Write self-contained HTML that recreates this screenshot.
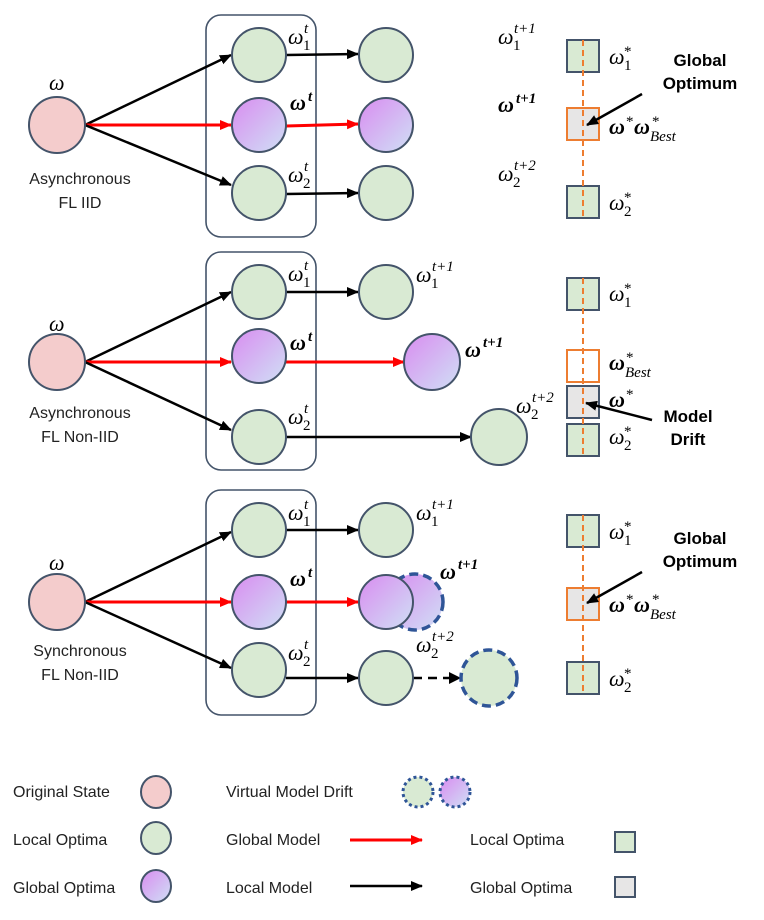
<html><body style="margin:0;background:#fff">
<svg width="764" height="920" xmlns="http://www.w3.org/2000/svg" font-family="Liberation Sans, sans-serif">
<defs>
<linearGradient id="pg" x1="0" y1="0" x2="1" y2="1"><stop offset="0" stop-color="#d98cf0"/><stop offset="1" stop-color="#cfe0f5"/></linearGradient>
<marker id="ab" markerWidth="12" markerHeight="10" refX="11" refY="5" orient="auto" markerUnits="userSpaceOnUse" viewBox="0 0 12 10"><path d="M0,0L12,5L0,10z" fill="#000"/></marker>
<marker id="ar" markerWidth="12" markerHeight="10" refX="11" refY="5" orient="auto" markerUnits="userSpaceOnUse" viewBox="0 0 12 10"><path d="M0,0L12,5L0,10z" fill="#f00"/></marker>
<style>
.o{fill:#f4cccc;stroke:#44546a;stroke-width:2}
.g{fill:#d9ead3;stroke:#44546a;stroke-width:2}
.p{fill:url(#pg);stroke:#44546a;stroke-width:2}
.bx{fill:none;stroke:#44546a;stroke-width:1.6}
.k{stroke:#000;stroke-width:2.5;marker-end:url(#ab)}
.r{stroke:#f00;stroke-width:3;marker-end:url(#ar)}
.sg{fill:#d9ead3;stroke:#44546a;stroke-width:2}
.sgr{fill:#e7e6e6;stroke:#44546a;stroke-width:2}
.so{fill:#e7e6e6;stroke:#ed7d31;stroke-width:2}
.dl{stroke:#ed7d31;stroke-width:2;stroke-dasharray:6,4}
.m{font-family:"Liberation Serif",serif;font-style:italic;font-size:22px}
.mb{font-family:"Liberation Serif",serif;font-style:italic;font-weight:bold;font-size:22px}
.s{font-family:"Liberation Serif",serif;font-style:italic;font-size:15px}
.sb{font-family:"Liberation Serif",serif;font-style:italic;font-weight:bold;font-size:15px}
.n{font-family:"Liberation Serif",serif;font-size:15px}
.t{font-size:16px;fill:#222}
.lb{font-size:17px;font-weight:bold}
.vd{stroke:#2f5597;stroke-width:3.5;stroke-dasharray:9,5}
</style>
</defs>
<!-- Panel 1 -->
<rect class="bx" x="206" y="15" width="110" height="222" rx="15"/>
<line class="k" x1="85" y1="125" x2="231" y2="55"/>
<line class="r" x1="85" y1="125" x2="231" y2="125"/>
<line class="k" x1="85" y1="125" x2="231" y2="185"/>
<line class="k" x1="286" y1="55" x2="358" y2="54"/>
<line class="r" x1="286" y1="126" x2="358" y2="124"/>
<line class="k" x1="286" y1="194" x2="358" y2="193"/>
<circle class="o" cx="57" cy="125" r="28"/>
<circle class="g" cx="259" cy="55" r="27"/><circle class="p" cx="259" cy="125" r="27"/><circle class="g" cx="259" cy="193" r="27"/>
<circle class="g" cx="386" cy="55" r="27"/><circle class="p" cx="386" cy="125" r="27"/><circle class="g" cx="386" cy="193" r="27"/>
<text class="m" x="49" y="90">ω</text>
<text class="t" x="80" y="184" text-anchor="middle">Asynchronous</text><text class="t" x="80" y="208" text-anchor="middle">FL IID</text>
<text class="m" x="288" y="44">ω</text><text class="s" x="304" y="33">t</text><text class="n" x="303" y="50">1</text>
<text class="mb" x="290" y="110">ω</text><text class="sb" x="308" y="101">t</text>
<text class="m" x="288" y="182">ω</text><text class="s" x="304" y="171">t</text><text class="n" x="303" y="188">2</text>
<text class="m" x="498" y="44">ω</text><text class="s" x="514" y="33">t+1</text><text class="n" x="513" y="50">1</text>
<text class="mb" x="498" y="112">ω</text><text class="sb" x="516" y="103">t+1</text>
<text class="m" x="498" y="181">ω</text><text class="s" x="514" y="170">t+2</text><text class="n" x="513" y="187">2</text>
<rect class="sg" x="567" y="40" width="32" height="32"/><rect class="so" x="567" y="108" width="32" height="32"/><rect class="sg" x="567" y="186" width="32" height="32"/>
<line class="dl" x1="583" y1="40" x2="583" y2="218"/>
<text class="m" x="609" y="64">ω</text><text class="n" x="624" y="56">*</text><text class="n" x="624" y="70">1</text>
<text class="mb" x="609" y="134">ω</text><text class="n" x="626" y="126">*</text><text class="mb" x="634" y="134">ω</text><text class="n" x="652" y="126">*</text><text class="s" x="650" y="141">Best</text>
<text class="m" x="609" y="210">ω</text><text class="n" x="624" y="202">*</text><text class="n" x="624" y="216">2</text>
<text class="lb" x="700" y="66" text-anchor="middle">Global</text><text class="lb" x="700" y="89" text-anchor="middle">Optimum</text>
<line class="k" x1="642" y1="94" x2="587" y2="125"/>
<!-- Panel 2 -->
<rect class="bx" x="206" y="252" width="110" height="218" rx="15"/>
<line class="k" x1="85" y1="362" x2="231" y2="292"/>
<line class="r" x1="85" y1="362" x2="231" y2="362"/>
<line class="k" x1="85" y1="362" x2="231" y2="430"/>
<line class="k" x1="286" y1="292" x2="358" y2="292"/>
<line class="r" x1="286" y1="362" x2="404" y2="362"/>
<line class="k" x1="286" y1="437" x2="471" y2="437"/>
<circle class="o" cx="57" cy="362" r="28"/>
<circle class="g" cx="259" cy="292" r="27"/><circle class="p" cx="259" cy="356" r="27"/><circle class="g" cx="259" cy="437" r="27"/>
<circle class="g" cx="386" cy="292" r="27"/><circle class="p" cx="432" cy="362" r="28"/><circle class="g" cx="499" cy="437" r="28"/>
<text class="m" x="49" y="331">ω</text>
<text class="t" x="80" y="418" text-anchor="middle">Asynchronous</text><text class="t" x="80" y="442" text-anchor="middle">FL Non-IID</text>
<text class="m" x="288" y="281">ω</text><text class="s" x="304" y="270">t</text><text class="n" x="303" y="287">1</text>
<text class="mb" x="290" y="350">ω</text><text class="sb" x="308" y="341">t</text>
<text class="m" x="288" y="424">ω</text><text class="s" x="304" y="413">t</text><text class="n" x="303" y="430">2</text>
<text class="m" x="416" y="282">ω</text><text class="s" x="432" y="271">t+1</text><text class="n" x="431" y="288">1</text>
<text class="mb" x="465" y="357">ω</text><text class="sb" x="483" y="347">t+1</text>
<text class="m" x="516" y="413">ω</text><text class="s" x="532" y="402">t+2</text><text class="n" x="531" y="419">2</text>
<rect class="sg" x="567" y="278" width="32" height="32"/><rect x="567" y="350" width="32" height="32" fill="#fff" stroke="#ed7d31" stroke-width="2"/><rect class="sgr" x="567" y="386" width="32" height="32"/><rect class="sg" x="567" y="424" width="32" height="32"/>
<line class="dl" x1="583" y1="278" x2="583" y2="456"/>
<text class="m" x="609" y="301">ω</text><text class="n" x="624" y="293">*</text><text class="n" x="624" y="307">1</text>
<text class="mb" x="609" y="370">ω</text><text class="n" x="626" y="362">*</text><text class="s" x="625" y="377">Best</text>
<text class="mb" x="609" y="407">ω</text><text class="n" x="626" y="399">*</text>
<text class="m" x="609" y="444">ω</text><text class="n" x="624" y="436">*</text><text class="n" x="624" y="450">2</text>
<text class="lb" x="688" y="422" text-anchor="middle">Model</text><text class="lb" x="688" y="445" text-anchor="middle">Drift</text>
<line class="k" x1="652" y1="420" x2="586" y2="403"/>
<!-- Panel 3 -->
<rect class="bx" x="206" y="490" width="110" height="225" rx="15"/>
<line class="k" x1="85" y1="602" x2="231" y2="532"/>
<line class="r" x1="85" y1="602" x2="231" y2="602"/>
<line class="k" x1="85" y1="602" x2="231" y2="668"/>
<line class="k" x1="286" y1="530" x2="358" y2="530"/>
<line class="r" x1="286" y1="602" x2="358" y2="602"/>
<line class="k" x1="286" y1="678" x2="358" y2="678"/>
<line x1="413" y1="678" x2="450" y2="678" stroke="#000" stroke-width="2.5" stroke-dasharray="9,6"/>
<path d="M449,672L461,678L449,684z"/>
<circle class="o" cx="57" cy="602" r="28"/>
<circle class="g" cx="259" cy="530" r="27"/><circle class="p" cx="259" cy="602" r="27"/><circle class="g" cx="259" cy="670" r="27"/>
<circle class="g" cx="386" cy="530" r="27"/>
<circle cx="415" cy="602" r="28" fill="url(#pg)" class="vd"/>
<circle class="p" cx="386" cy="602" r="27"/>
<circle class="g" cx="386" cy="678" r="27"/>
<circle cx="489" cy="678" r="28" fill="#d9ead3" class="vd"/>
<text class="m" x="49" y="570">ω</text>
<text class="t" x="80" y="656" text-anchor="middle">Synchronous</text><text class="t" x="80" y="680" text-anchor="middle">FL Non-IID</text>
<text class="m" x="288" y="520">ω</text><text class="s" x="304" y="509">t</text><text class="n" x="303" y="526">1</text>
<text class="mb" x="290" y="586">ω</text><text class="sb" x="308" y="577">t</text>
<text class="m" x="288" y="660">ω</text><text class="s" x="304" y="649">t</text><text class="n" x="303" y="666">2</text>
<text class="m" x="416" y="520">ω</text><text class="s" x="432" y="509">t+1</text><text class="n" x="431" y="526">1</text>
<text class="mb" x="440" y="579">ω</text><text class="sb" x="458" y="569">t+1</text>
<text class="m" x="416" y="652">ω</text><text class="s" x="432" y="641">t+2</text><text class="n" x="431" y="658">2</text>
<rect class="sg" x="567" y="515" width="32" height="32"/><rect class="so" x="567" y="588" width="32" height="32"/><rect class="sg" x="567" y="662" width="32" height="32"/>
<line class="dl" x1="583" y1="515" x2="583" y2="694"/>
<text class="m" x="609" y="539">ω</text><text class="n" x="624" y="531">*</text><text class="n" x="624" y="545">1</text>
<text class="mb" x="609" y="612">ω</text><text class="n" x="626" y="604">*</text><text class="mb" x="634" y="612">ω</text><text class="n" x="652" y="604">*</text><text class="s" x="650" y="619">Best</text>
<text class="m" x="609" y="686">ω</text><text class="n" x="624" y="678">*</text><text class="n" x="624" y="692">2</text>
<text class="lb" x="700" y="544" text-anchor="middle">Global</text><text class="lb" x="700" y="567" text-anchor="middle">Optimum</text>
<line class="k" x1="642" y1="572" x2="587" y2="603"/>
<!-- Legend -->
<text class="t" x="13" y="797">Original State</text><ellipse class="o" cx="156" cy="792" rx="15" ry="16"/>
<text class="t" x="13" y="845">Local Optima</text><ellipse class="g" cx="156" cy="838" rx="15" ry="16"/>
<text class="t" x="13" y="893">Global Optima</text><ellipse class="p" cx="156" cy="886" rx="15" ry="16"/>
<text class="t" x="226" y="797">Virtual Model Drift</text>
<circle cx="418" cy="792" r="15" fill="#d9ead3" stroke="#2f5597" stroke-width="3" stroke-dasharray="3,3"/>
<circle cx="455" cy="792" r="15" fill="url(#pg)" stroke="#2f5597" stroke-width="3" stroke-dasharray="3,3"/>
<text class="t" x="226" y="845">Global Model</text><line class="r" x1="350" y1="840" x2="422" y2="840"/>
<text class="t" x="226" y="893">Local Model</text><line class="k" x1="350" y1="886" x2="422" y2="886"/>
<text class="t" x="470" y="845">Local Optima</text><rect class="sg" x="615" y="832" width="20" height="20"/>
<text class="t" x="470" y="893">Global Optima</text><rect class="sgr" x="615" y="877" width="20" height="20"/>
</svg>
</body></html>
